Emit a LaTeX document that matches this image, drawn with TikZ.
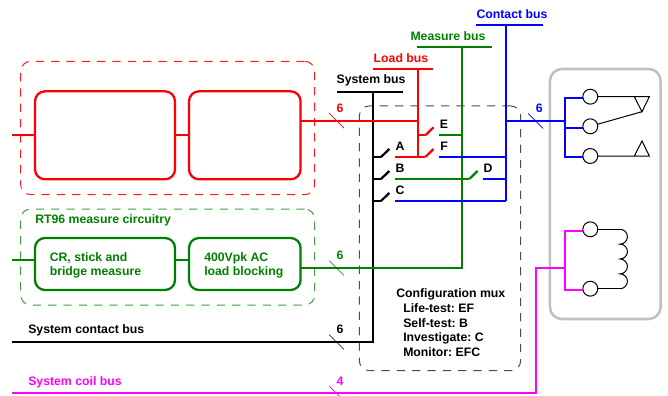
\documentclass[tikz,border=0pt]{standalone}
\usepackage{fontspec}
\setmainfont{Liberation Sans}
\usepackage{xcolor}
\usetikzlibrary{positioning}
\definecolor{busGreen}{RGB}{0,128,0}
\definecolor{busPink}{RGB}{255,0,255}
\definecolor{boxGray}{RGB}{192,192,192}
\def\boxR{7.5pt}
\def\coilR{5.57pt}
\frenchspacing
\tikzset{
    bus/.style={line width=1.7pt},
    block/.style={draw, line width=1.7pt, rounded corners=\boxR, minimum height=#1, inner sep=0pt, outer sep=0pt},
    block/.default=66pt,
    group/.style={draw, line width=0.75pt, dash pattern=on 6.2pt off 5.3pt, rounded corners=\boxR, inner sep=0pt, outer sep=0pt},
    term/.style={circle, draw, line width=0.75pt, minimum size=11.2pt, inner sep=0pt, outer sep=0pt},
    wire/.style={line width=0.75pt},
    txt/.style={font=\bfseries\fontsize{9.2}{10.5}\selectfont, inner sep=0pt, align=left}
}
% #1 = name, #2 = x, #3 = y, #4 = colour, #5 = count
\newcommand{\bustick}[5]{%
\draw[#4, line width=0.5pt] ({#2-7.5},{#3-7.5}) -- ++(15,15);
\node[txt, text=#4] (#1) at ({#2+3.5},{#3-12.5}) {#5};
}
% #1 = colour, #2 = start of the blade
\newcommand{\blade}[2]{%
\draw[bus, #1] (#2) -- ++(8.3,-8);
}
\begin{document}
\begin{tikzpicture}[x=0.75pt, y=-0.75pt]
\useasboundingbox (0,0) rectangle (668,396);

% dashed groups
\node[group, red!90, minimum width=220.5pt, minimum height=100pt] (relayGroup) at (167.7,128) {};
\node[group, busGreen!75, minimum width=220.5pt, minimum height=72pt] (measGroup) at (167.7,257) {};
\node[group, black!70, minimum width=121pt, minimum height=198.5pt] (muxGroup) at (440,238.3) {};
\node[draw=boxGray, line width=1.9pt, rounded corners=9pt, minimum width=83pt, minimum height=187.5pt, inner sep=0pt] (relayBox) at (605.3,194) {};

% blocks
\node[block, red, minimum width=105pt] (redA) at (105,135.3) {};
\node[block, red, minimum width=83.7pt] (redB) at (244.8,135.3) {};
\node[block=39pt, busGreen, minimum width=105pt] (greenA) at (105,264) {};
\node[block=39pt, busGreen, minimum width=83.7pt] (greenB) at (244.8,264) {};
\node[txt, text=busGreen, anchor=west] (greenAtxt) at (49.5,265) {CR, stick and\\bridge measure};
\node[txt, text=busGreen, anchor=west] (greenBtxt) at (204,265) {400Vpk AC\\load blocking};
\node[txt, text=busGreen, anchor=west] (measTxt) at (35,220.5) {RT96 measure circuitry};

% bus labels
\node[txt, text=blue] (contactTxt) at (512,14) {Contact bus};
\node[txt, text=busGreen] (measureTxt) at (448,36) {Measure bus};
\node[txt, text=red] (loadTxt) at (401,58) {Load bus};
\node[txt] (systemTxt) at (371,80) {System bus};
\node[txt, anchor=west] (sysContactTxt) at (28,330) {System contact bus};
\node[txt, text=busPink, anchor=west] (sysCoilTxt) at (28,382) {System coil bus};
\node[txt, font=\bfseries\fontsize{9.2}{11.2}\selectfont, anchor=north west] (muxTxt) at (396,288) {Configuration mux\\
\hspace*{5.25pt}Life-test: EF\\
\hspace*{5.25pt}Self-test: B\\
\hspace*{5.25pt}Investigate: C\\
\hspace*{5.25pt}Monitor: EFC};

% switch labels
\node[txt] (labA) at (400,146) {A};
\node[txt] (labB) at (400,168) {B};
\node[txt] (labC) at (400,190) {C};
\node[txt] (labD) at (488,168) {D};
\node[txt] (labE) at (444,124) {E};
\node[txt] (labF) at (444,146) {F};

% bus rails
\coordinate (sysL) at (337,91.7);
\coordinate (sysR) at (403,91.7);
\coordinate (sysT) at (373.3,91.7);
\coordinate (sysEnd) at (12,342);
\coordinate (sysA) at (373.3,157);
\coordinate (sysB) at (373.3,179);
\coordinate (sysC) at (373.3,201);
\coordinate (loadL) at (372.7,69);
\coordinate (loadR) at (433,69);
\coordinate (loadT) at (418,69);
\coordinate (measL) at (416.7,47);
\coordinate (measR) at (492,47);
\coordinate (measT) at (462.3,47);
\coordinate (contL) at (476,25);
\coordinate (contR) at (543,25);
\coordinate (contT) at (506,25);

\draw[bus] (sysL) -- (sysR);
\draw[bus] (sysT) -- (373.3,342) -- (sysEnd);
\draw[bus, red] (loadL) -- (loadR);
\draw[bus, red] (loadT) -- (418,157);
\draw[bus, busGreen] (measL) -- (measR);
\draw[bus, busGreen] (measT) -- (462.3,268) -- (greenB.east |- 0,268);
\draw[bus, blue] (contL) -- (contR);
\draw[bus, blue] (contT) -- (506,201);

% block links
\coordinate (redIn) at (12,135.3);
\coordinate (greenIn) at (12,260);
\draw[bus, red] (redIn) -- (redA.west);
\draw[bus, red] (redA.east) -- (redB.west);
\draw[bus, red] (redB.east |- 0,120.7) -- (418,120.7);
\draw[bus, busGreen] (greenIn) -- (greenA.west |- greenIn);
\draw[bus, busGreen] (greenA.east |- greenIn) -- (greenB.west |- greenIn);

% mux switches
\coordinate (bladeA) at (381,157);
\coordinate (bladeB) at (381,179);
\coordinate (bladeC) at (381,201);
\coordinate (bladeE) at (425.3,135.3);
\coordinate (bladeF) at (425.3,157);
\coordinate (bladeM) at (469.3,179);
\draw[bus] (sysA) -- (bladeA); \blade{black}{bladeA}
\draw[bus] (sysB) -- (bladeB); \blade{black}{bladeB}
\draw[bus] (sysC) -- (bladeC); \blade{black}{bladeC}
\draw[bus, red] (418,135.3) -- (bladeE); \blade{red}{bladeE}
\draw[bus, red] (395,157) -- (bladeF); \blade{red}{bladeF}
\draw[bus, busGreen] (395,179) -- (bladeM); \blade{busGreen}{bladeM}
\draw[bus, busGreen] (439.3,135.3) -- (462.3,135.3);
\draw[bus, blue] (439.3,157) -- (506,157);
\draw[bus, blue] (483.3,179) -- (506,179);
\draw[bus, blue] (395,201) -- (506,201);

% relay terminals
\node[term] (t1) at (590.3,96.7) {};
\node[term] (t2) at (590.3,126.3) {};
\node[term] (t3) at (590.3,156) {};
\node[term] (t4) at (590.3,229.3) {};
\node[term] (t5) at (590.3,288.7) {};

\draw[bus, blue] (506,121) -- (565,121);
\draw[bus, blue] (t1.west |- 0,98.3) -- (565,98.3) -- (565,157) -- (t3.west |- 0,157);
\draw[bus, blue] (565,128) -- (t2.west |- 0,128);
\draw[bus, busPink] (t4.west |- 0,231) -- (565,231) -- (565,290) -- (t5.west |- 0,290);
\draw[bus, busPink] (565,268) -- (535.7,268) -- (535.7,393.3) -- (12,393.3);

% contacts
\coordinate (c1) at (634.3,96.7);
\coordinate (c2) at (649.3,96.7);
\coordinate (c3) at (642,111.7);
\coordinate (c4) at (634.3,156);
\coordinate (c5) at (649.3,156);
\coordinate (c6) at (642,141);
\draw[wire] (t1) -- (c2) -- (c3) -- (c1);
\draw[wire] (t2) -- (c3);
\draw[wire] (t3) -- (c5) -- (c6) -- (c4);

% coil
\coordinate (coilA) at (620,229.3);
\coordinate (coilB) at (620,288.7);
\draw[wire] (t4) -- (coilA);
\draw[wire] (t5) -- (coilB);
\draw[wire] (coilA)
\foreach \i in {1,...,4} { arc[start angle=90, end angle=-90, radius=\coilR] };

% bus widths
\bustick{tickRed}{336.5}{120.7}{red}{6}
\bustick{tickBlue}{535.7}{121}{blue}{6}
\bustick{tickGreen}{336.5}{268}{busGreen}{6}
\bustick{tickBlack}{336.5}{342}{black}{6}
\bustick{tickPink}{336.5}{393.3}{busPink}{4}
\end{tikzpicture}
\end{document}
